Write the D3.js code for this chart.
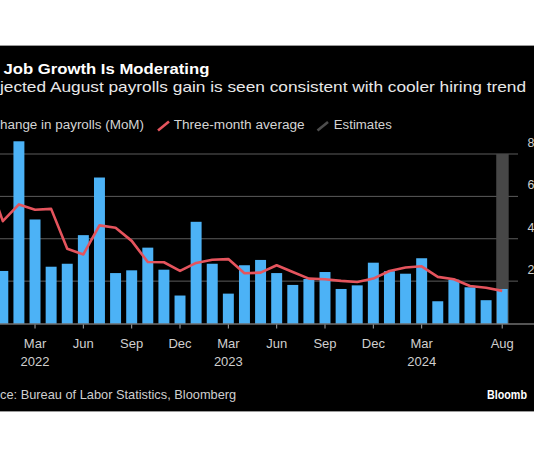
<!DOCTYPE html>
<html>
<head>
<meta charset="utf-8">
<script src="https://cdn.jsdelivr.net/npm/d3@7/dist/d3.min.js"></script>
<style>
  html, body { margin: 0; padding: 0; background: #ffffff; }
  svg { display: block; font-family: "Liberation Sans", Arial, sans-serif; }
</style>
</head>
<body>
<svg id="chart" width="534" height="462"></svg>
<script>
// ---- Data (thousands of jobs) ----
const months = [
  "2021-12",
  "2022-01","2022-02","2022-03","2022-04","2022-05","2022-06","2022-07","2022-08","2022-09","2022-10","2022-11","2022-12",
  "2023-01","2023-02","2023-03","2023-04","2023-05","2023-06","2023-07","2023-08","2023-09","2023-10","2023-11","2023-12",
  "2024-01","2024-02","2024-03","2024-04","2024-05","2024-06","2024-07","2024-08"
];
// Monthly change in payrolls (Dec 2021 bar lies outside the cropped frame)
const payrolls = [
  null,
  248, 860, 491, 268, 282, 417, 689, 238, 251, 358, 254, 132,
  480, 282, 141, 275, 300, 238, 182, 210, 243, 163, 180, 287,
  247, 235, 308, 105, 207, 171, 110, 163
];
// Three-month average
const threeMonthAvg = [
  700,
  483, 562, 537, 541, 353, 326, 463, 452, 390, 290, 289, 248,
  286, 301, 304, 237, 240, 275, 243, 212, 209, 201, 196, 212,
  248, 264, 270, 220, 209, 177, 169, 154
];
const estimateMonths = ["2024-08"];
const tickMonths = ["2021-12","2022-03","2022-06","2022-09","2022-12","2023-03","2023-06","2023-09","2023-12","2024-03","2024-08"];
const tickMonthLabels = ["","Mar","Jun","Sep","Dec","Mar","Jun","Sep","Dec","Mar","Aug"];
const tickYearLabels = ["","2022","","","","2023","","","","2024",""];
const yTicks = [200, 400, 600, 800];
// Visible part of the right-hand axis labels (the frame cuts them after the first digit)
const yTickLabels = ["2", "4", "6", "8"];

// ---- Layout ----
const svg = d3.select("#chart");
const W = 534, H = 462;

svg.append("rect").attr("x", 0).attr("y", 0).attr("width", W).attr("height", H).attr("fill", "#ffffff");
svg.append("rect").attr("x", 0).attr("y", 46).attr("width", W).attr("height", 365).attr("fill", "#000000");
svg.append("line").attr("x1", 0).attr("x2", W).attr("y1", 45.5).attr("y2", 45.5).attr("stroke", "#9a9a9a").attr("stroke-width", 1);
svg.append("line").attr("x1", 0).attr("x2", W).attr("y1", 411.5).attr("y2", 411.5).attr("stroke", "#9a9a9a").attr("stroke-width", 1);

const x = d3.scaleBand()
  .domain(months)
  .range([-21.36, 510.27])
  .paddingInner(0.32)
  .paddingOuter(0.16);
const cx = m => x(m) + x.bandwidth() / 2;

const y = d3.scaleLinear().domain([0, 800]).range([323.5, 154]);

// Gridlines
const grid = svg.append("g");
grid.selectAll("line").data(yTicks).join("line")
  .attr("x1", 0).attr("x2", 518)
  .attr("y1", d => y(d)).attr("y2", d => y(d))
  .attr("stroke", "#5c5c5c").attr("stroke-width", 1);

// Y labels (right side)
svg.append("g").selectAll("text").data(yTicks).join("text")
  .attr("x", 527.5).attr("y", d => y(d) - 7)
  .attr("fill", "#cfcfcf").attr("font-size", 12.5)
  .text((d, i) => yTickLabels[i]);

// Estimates band
svg.append("g").selectAll("rect").data(estimateMonths).join("rect")
  .attr("x", d => x(d) - 0.5)
  .attr("width", x.bandwidth() + 1.5)
  .attr("y", y(800))
  .attr("height", y(0) - y(800))
  .attr("fill", "#474747");

// Bars
const barData = months.map((m, i) => ({ m, v: payrolls[i] })).filter(d => d.v !== null);
svg.append("g").selectAll("rect").data(barData).join("rect")
  .attr("x", d => x(d.m))
  .attr("width", x.bandwidth())
  .attr("y", d => y(d.v))
  .attr("height", d => y(0) - y(d.v))
  .attr("fill", "#4cb2f6");

// Baseline
svg.append("line").attr("x1", 0).attr("x2", W)
  .attr("y1", y(0) + 0.5).attr("y2", y(0) + 0.5)
  .attr("stroke", "#a8a8a8").attr("stroke-width", 1);

// Three-month average line
const lineData = months.map((m, i) => ({ m, v: threeMonthAvg[i] }));
svg.append("path")
  .datum(lineData)
  .attr("fill", "none")
  .attr("stroke", "#e5545d")
  .attr("stroke-width", 2.6)
  .attr("stroke-linejoin", "round")
  .attr("d", d3.line().x(d => cx(d.m)).y(d => y(d.v)));

// X axis ticks and labels
const xa = svg.append("g");
xa.selectAll("line").data(tickMonths).join("line")
  .attr("x1", d => cx(d)).attr("x2", d => cx(d))
  .attr("y1", y(0) + 1).attr("y2", y(0) + 5)
  .attr("stroke", "#a8a8a8").attr("stroke-width", 1);
xa.selectAll("text.m").data(tickMonths).join("text")
  .attr("class", "m")
  .attr("x", d => cx(d)).attr("y", 348)
  .attr("text-anchor", "middle")
  .attr("fill", "#cfcfcf").attr("font-size", 13)
  .text((d, i) => tickMonthLabels[i]);
xa.selectAll("text.yr").data(tickMonths).join("text")
  .attr("class", "yr")
  .attr("x", d => cx(d)).attr("y", 365.5)
  .attr("text-anchor", "middle")
  .attr("fill", "#cfcfcf").attr("font-size", 13)
  .text((d, i) => tickYearLabels[i]);

// Titles (the left edge of the original chart is cropped)
svg.append("text").attr("x", 3.4).attr("y", 74)
  .attr("fill", "#ffffff").attr("font-size", 15).attr("font-weight", "bold")
  .attr("textLength", 206).attr("lengthAdjust", "spacingAndGlyphs")
  .text("Job Growth Is Moderating");
svg.append("text").attr("x", 0).attr("y", 91.8)
  .attr("fill", "#e8e8e8").attr("font-size", 15)
  .attr("textLength", 526).attr("lengthAdjust", "spacingAndGlyphs")
  .text("jected August payrolls gain is seen consistent with cooler hiring trend");

// Legend
const lg = svg.append("g").attr("font-size", 12).attr("fill", "#d4d4d4");
lg.append("text").attr("x", 0).attr("y", 129.2)
  .attr("textLength", 144).attr("lengthAdjust", "spacingAndGlyphs")
  .text("hange in payrolls (MoM)");
lg.append("line").attr("x1", 158).attr("y1", 130.5).attr("x2", 169).attr("y2", 121.5)
  .attr("stroke", "#e5545d").attr("stroke-width", 2.6);
lg.append("text").attr("x", 173.7).attr("y", 129.2)
  .attr("textLength", 131).attr("lengthAdjust", "spacingAndGlyphs")
  .text("Three-month average");
lg.append("line").attr("x1", 317.5).attr("y1", 130.5).attr("x2", 328).attr("y2", 122)
  .attr("stroke", "#4d4d4d").attr("stroke-width", 2.6);
lg.append("text").attr("x", 333.8).attr("y", 129.2)
  .attr("textLength", 58).attr("lengthAdjust", "spacingAndGlyphs")
  .text("Estimates");

// Footer
svg.append("text").attr("x", 0).attr("y", 399.2)
  .attr("fill", "#cfcfcf").attr("font-size", 12.8)
  .text("ce: Bureau of Labor Statistics, Bloomberg");
svg.append("text").attr("x", 487).attr("y", 399.2)
  .attr("fill", "#ffffff").attr("font-size", 13).attr("font-weight", "bold")
  .attr("textLength", 40).attr("lengthAdjust", "spacingAndGlyphs")
  .text("Bloomb");
</script>
</body>
</html>
